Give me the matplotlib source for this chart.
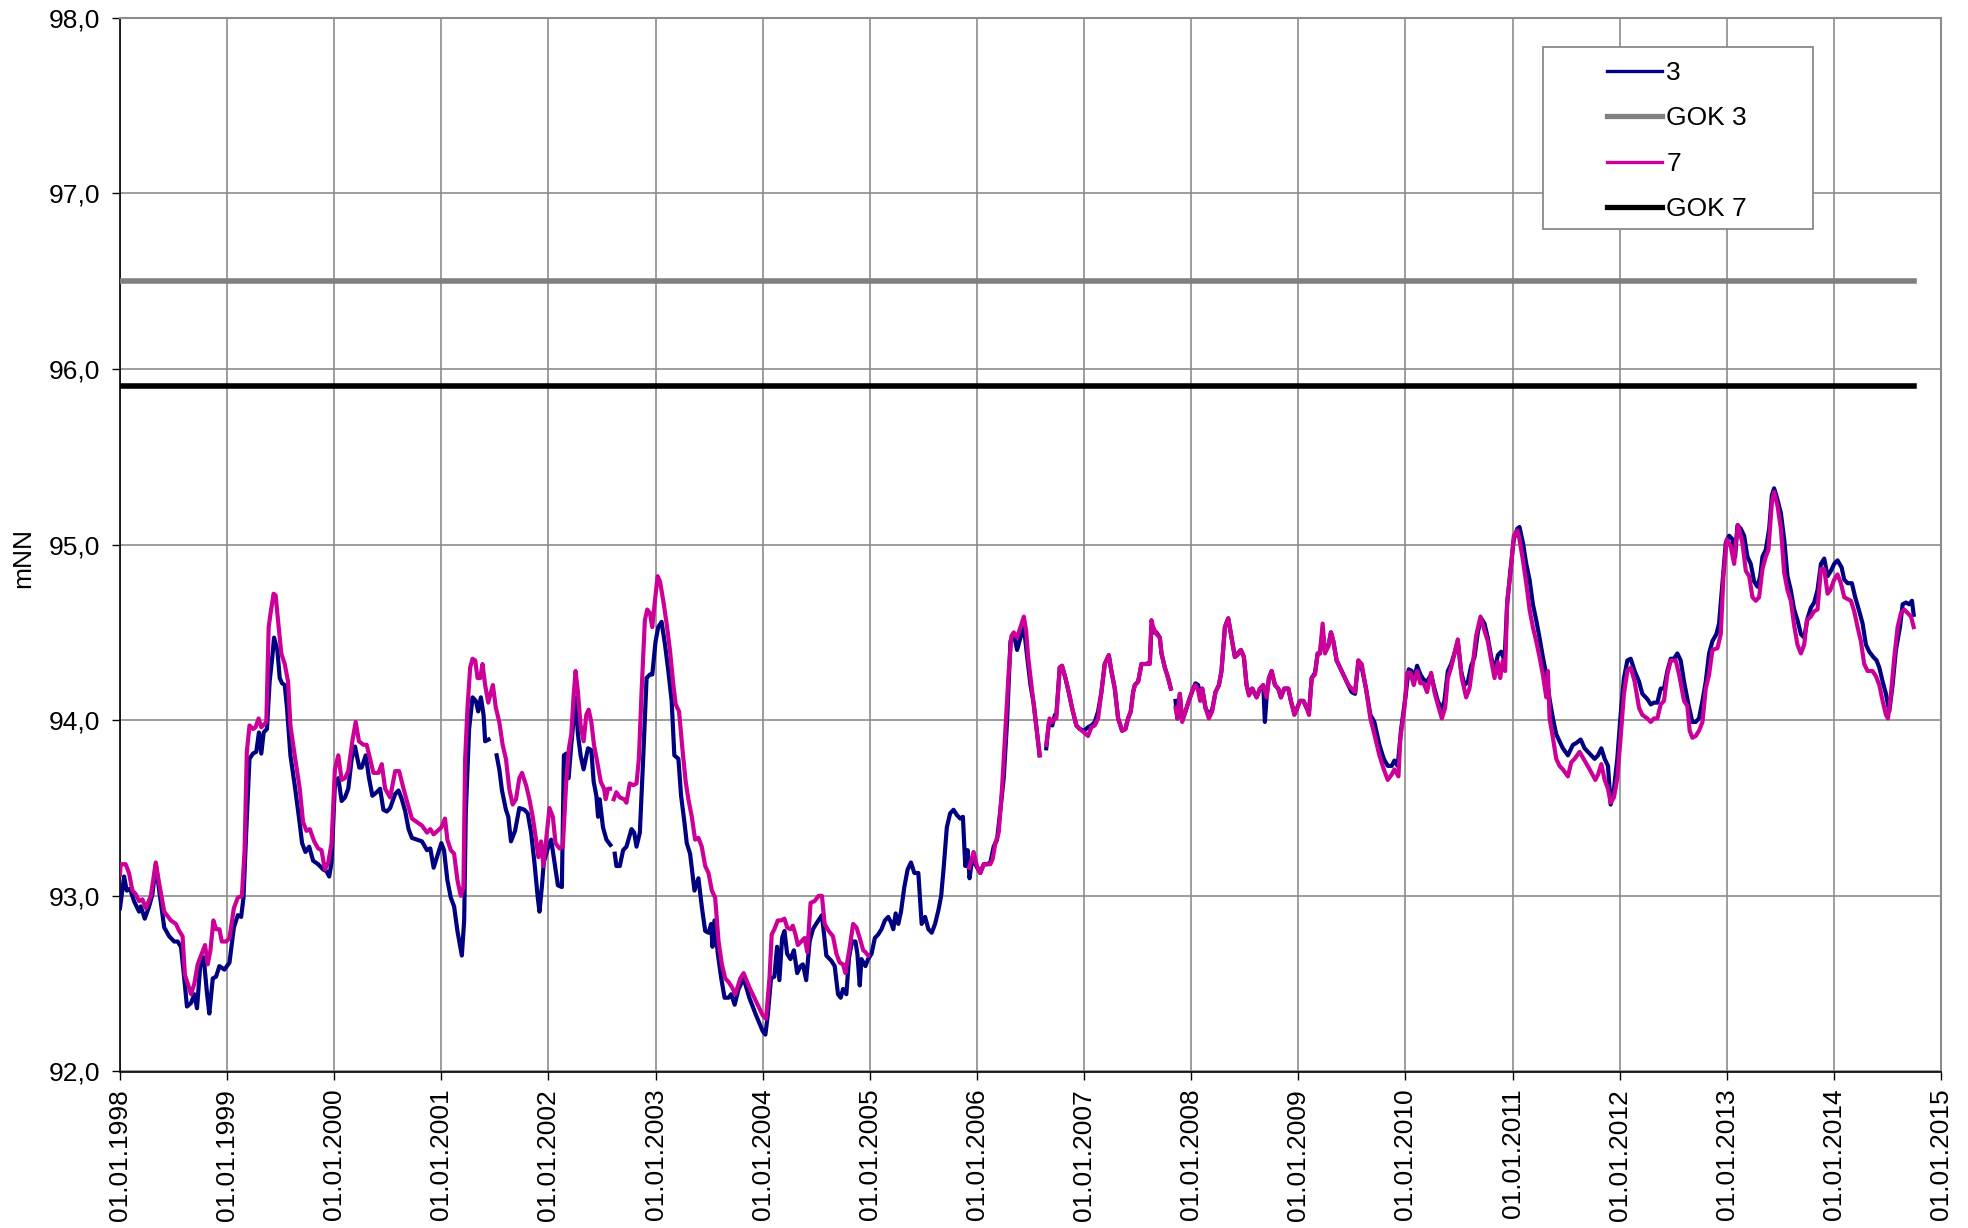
import numpy as np
import matplotlib
matplotlib.use("Agg")
import matplotlib.pyplot as plt
from matplotlib.patches import Rectangle
from matplotlib.lines import Line2D

plt.rcParams['font.family'] = ['Liberation Sans', 'DejaVu Sans']

NAN = float('nan')

# ---- data: (decimal year, level in mNN); NaN marks gaps in the record ----
series3 = [
    (1998.000, 92.93), (1998.038, 93.11), (1998.063, 93.03), (1998.094, 93.04), (1998.131, 92.97),
    (1998.178, 92.91), (1998.194, 92.94), (1998.231, 92.87), (1998.272, 92.94), (1998.303, 93.01),
    (1998.334, 93.18), (1998.366, 93.03), (1998.413, 92.82), (1998.459, 92.77), (1998.506, 92.74),
    (1998.538, 92.74), (1998.569, 92.71), (1998.600, 92.53), (1998.625, 92.37), (1998.663, 92.39),
    (1998.694, 92.44), (1998.719, 92.36), (1998.750, 92.61), (1998.781, 92.65), (1998.813, 92.44),
    (1998.834, 92.33), (1998.866, 92.53), (1998.897, 92.54), (1998.928, 92.60), (1998.975, 92.58),
    (1999.022, 92.62), (1999.063, 92.82), (1999.100, 92.89), (1999.131, 92.88), (1999.153, 92.99),
    (1999.178, 93.36), (1999.209, 93.78), (1999.241, 93.81), (1999.272, 93.82), (1999.297, 93.93),
    (1999.319, 93.81), (1999.341, 93.93), (1999.372, 93.95), (1999.397, 94.22), (1999.422, 94.36),
    (1999.438, 94.47), (1999.469, 94.40), (1999.491, 94.24), (1999.513, 94.21), (1999.538, 94.20),
    (1999.559, 94.07), (1999.591, 93.80), (1999.631, 93.63), (1999.672, 93.44), (1999.700, 93.30),
    (1999.731, 93.25), (1999.766, 93.28), (1999.803, 93.20), (1999.850, 93.18), (1999.897, 93.15),
    (1999.928, 93.14), (1999.953, 93.11), (1999.975, 93.19), (2000.006, 93.63), (2000.038, 93.67),
    (2000.069, 93.54), (2000.100, 93.56), (2000.131, 93.61), (2000.163, 93.78), (2000.194, 93.85),
    (2000.234, 93.73), (2000.256, 93.73), (2000.294, 93.80), (2000.325, 93.67), (2000.356, 93.57),
    (2000.397, 93.59), (2000.428, 93.61), (2000.459, 93.49), (2000.491, 93.48), (2000.522, 93.50),
    (2000.569, 93.58), (2000.600, 93.60), (2000.631, 93.55), (2000.663, 93.48), (2000.694, 93.38),
    (2000.725, 93.33), (2000.772, 93.32), (2000.819, 93.31), (2000.866, 93.26), (2000.897, 93.27),
    (2000.928, 93.16), (2001.000, 93.30), (2001.025, 93.26), (2001.056, 93.09), (2001.088, 92.99),
    (2001.119, 92.94), (2001.150, 92.80), (2001.191, 92.66), (2001.213, 92.86), (2001.228, 93.47),
    (2001.259, 93.95), (2001.291, 94.13), (2001.322, 94.11), (2001.344, 94.05), (2001.369, 94.13),
    (2001.394, 94.03), (2001.409, 93.88), (2001.441, 93.89), (2001.470, NAN),
    (2001.516, 93.80), (2001.541, 93.72), (2001.566, 93.60), (2001.603, 93.49), (2001.625, 93.45),
    (2001.650, 93.31), (2001.688, 93.37), (2001.728, 93.50), (2001.775, 93.49), (2001.806, 93.47),
    (2001.838, 93.36), (2001.869, 93.19), (2001.900, 92.99), (2001.916, 92.91), (2001.938, 93.05),
    (2001.956, 93.19), (2001.994, 93.27), (2002.025, 93.32), (2002.056, 93.19), (2002.088, 93.06),
    (2002.125, 93.05), (2002.144, 93.80), (2002.166, 93.81), (2002.188, 93.67), (2002.213, 93.86),
    (2002.238, 94.03), (2002.253, 94.13), (2002.275, 93.92), (2002.300, 93.80), (2002.328, 93.72),
    (2002.369, 93.84), (2002.400, 93.83), (2002.422, 93.65), (2002.447, 93.57), (2002.463, 93.45),
    (2002.478, 93.55), (2002.509, 93.39), (2002.541, 93.32), (2002.578, 93.29), (2002.598, NAN),
    (2002.619, 93.24), (2002.634, 93.17), (2002.666, 93.17), (2002.697, 93.26), (2002.728, 93.28),
    (2002.775, 93.38), (2002.800, 93.36), (2002.822, 93.28), (2002.853, 93.36), (2002.884, 93.78),
    (2002.916, 94.24), (2002.947, 94.26), (2002.969, 94.26), (2003.000, 94.45), (2003.025, 94.53),
    (2003.056, 94.56), (2003.088, 94.43), (2003.119, 94.28), (2003.150, 94.11), (2003.175, 93.80),
    (2003.213, 93.78), (2003.238, 93.57), (2003.269, 93.42), (2003.291, 93.30), (2003.322, 93.24),
    (2003.363, 93.03), (2003.400, 93.10), (2003.431, 92.94), (2003.463, 92.80), (2003.494, 92.79),
    (2003.519, 92.84), (2003.531, 92.71), (2003.550, 92.86), (2003.581, 92.67), (2003.613, 92.53),
    (2003.644, 92.42), (2003.681, 92.42), (2003.706, 92.44), (2003.738, 92.38), (2003.775, 92.47),
    (2003.822, 92.53), (2003.875, 92.42), (2003.938, 92.32), (2004.000, 92.23), (2004.025, 92.21),
    (2004.047, 92.32), (2004.078, 92.53), (2004.109, 92.54), (2004.134, 92.71), (2004.156, 92.52),
    (2004.181, 92.76), (2004.203, 92.80), (2004.228, 92.67), (2004.259, 92.64), (2004.291, 92.69),
    (2004.322, 92.56), (2004.353, 92.60), (2004.375, 92.61), (2004.406, 92.52), (2004.438, 92.74),
    (2004.469, 92.81), (2004.509, 92.85), (2004.553, 92.89), (2004.594, 92.66), (2004.641, 92.63),
    (2004.672, 92.60), (2004.703, 92.44), (2004.728, 92.42), (2004.750, 92.47), (2004.781, 92.44),
    (2004.806, 92.65), (2004.834, 92.74), (2004.866, 92.74), (2004.884, 92.67), (2004.906, 92.49),
    (2004.922, 92.64), (2004.959, 92.60), (2004.984, 92.64), (2005.016, 92.67), (2005.047, 92.76),
    (2005.078, 92.78), (2005.109, 92.81), (2005.141, 92.86), (2005.172, 92.88), (2005.197, 92.85),
    (2005.219, 92.81), (2005.241, 92.90), (2005.266, 92.84), (2005.291, 92.91), (2005.322, 93.05),
    (2005.353, 93.15), (2005.384, 93.19), (2005.416, 93.13), (2005.453, 93.13), (2005.484, 92.84),
    (2005.516, 92.88), (2005.547, 92.81), (2005.578, 92.79), (2005.609, 92.84), (2005.641, 92.92),
    (2005.666, 93.00), (2005.688, 93.15), (2005.719, 93.39), (2005.750, 93.47), (2005.781, 93.49),
    (2005.813, 93.46), (2005.844, 93.44), (2005.869, 93.45), (2005.891, 93.17), (2005.913, 93.26),
    (2005.931, 93.10), (2005.953, 93.20), (2005.984, 93.18), (2006.031, 93.13), (2006.063, 93.18),
    (2006.094, 93.18), (2006.125, 93.19), (2006.156, 93.28), (2006.188, 93.32), (2006.219, 93.49),
    (2006.250, 93.67), (2006.281, 93.99), (2006.313, 94.45), (2006.344, 94.49), (2006.375, 94.40),
    (2006.406, 94.47), (2006.438, 94.53), (2006.469, 94.36), (2006.500, 94.20), (2006.531, 94.09),
    (2006.563, 93.92), (2006.584, 93.80), (2006.615, NAN),
    (2006.647, 93.84), (2006.672, 93.99), (2006.703, 93.97), (2006.728, 94.03), (2006.741, 94.03),
    (2006.773, 94.30), (2006.794, 94.31), (2006.826, 94.24), (2006.857, 94.16), (2006.888, 94.07),
    (2006.928, 93.97), (2006.960, 93.95), (2007.000, 93.94), (2007.037, 93.96), (2007.069, 93.97),
    (2007.100, 93.99), (2007.131, 94.05), (2007.162, 94.16), (2007.193, 94.32), (2007.231, 94.37),
    (2007.255, 94.28), (2007.287, 94.18), (2007.318, 94.01), (2007.355, 93.94), (2007.386, 93.95),
    (2007.411, 94.01), (2007.436, 94.05), (2007.458, 94.16), (2007.474, 94.20), (2007.505, 94.22),
    (2007.536, 94.32), (2007.583, 94.32), (2007.614, 94.33), (2007.629, 94.53), (2007.645, 94.50),
    (2007.676, 94.50), (2007.707, 94.47), (2007.723, 94.38), (2007.754, 94.30), (2007.785, 94.24),
    (2007.810, 94.18), (2007.832, NAN),
    (2007.854, 94.11), (2007.872, 94.01), (2007.894, 94.15), (2007.916, 94.00), (2007.947, 94.05),
    (2007.978, 94.11), (2008.019, 94.18), (2008.040, 94.21), (2008.065, 94.20), (2008.084, 94.13),
    (2008.103, 94.18), (2008.134, 94.07), (2008.165, 94.03), (2008.196, 94.06), (2008.227, 94.16),
    (2008.259, 94.20), (2008.283, 94.28), (2008.315, 94.53), (2008.346, 94.58), (2008.377, 94.47),
    (2008.408, 94.36), (2008.433, 94.38), (2008.464, 94.40), (2008.492, 94.36), (2008.517, 94.20),
    (2008.539, 94.15), (2008.570, 94.18), (2008.611, 94.13), (2008.642, 94.18), (2008.673, 94.20),
    (2008.688, 93.99), (2008.704, 94.13), (2008.726, 94.24), (2008.751, 94.28), (2008.782, 94.20),
    (2008.813, 94.18), (2008.838, 94.13), (2008.869, 94.18), (2008.907, 94.18), (2008.931, 94.11),
    (2008.963, 94.04), (2008.984, 94.06), (2009.016, 94.11), (2009.047, 94.11), (2009.078, 94.07),
    (2009.100, 94.05), (2009.125, 94.24), (2009.156, 94.27), (2009.181, 94.38), (2009.202, 94.38),
    (2009.227, 94.50), (2009.249, 94.40), (2009.280, 94.42), (2009.305, 94.50), (2009.327, 94.45),
    (2009.358, 94.34), (2009.405, 94.28), (2009.436, 94.24), (2009.467, 94.20), (2009.498, 94.16),
    (2009.530, 94.15), (2009.561, 94.34), (2009.592, 94.30), (2009.632, 94.18), (2009.673, 94.03),
    (2009.710, 93.99), (2009.757, 93.86), (2009.798, 93.78), (2009.835, 93.74), (2009.872, 93.74),
    (2009.897, 93.77), (2009.928, 93.74), (2009.960, 93.95), (2010.000, 94.13), (2010.031, 94.29),
    (2010.059, 94.28), (2010.084, 94.24), (2010.109, 94.31), (2010.140, 94.26), (2010.171, 94.23),
    (2010.202, 94.22), (2010.240, 94.26), (2010.271, 94.18), (2010.302, 94.11), (2010.340, 94.06),
    (2010.364, 94.11), (2010.396, 94.28), (2010.427, 94.32), (2010.458, 94.38), (2010.489, 94.45),
    (2010.520, 94.28), (2010.551, 94.20), (2010.583, 94.22), (2010.614, 94.31), (2010.645, 94.36),
    (2010.676, 94.50), (2010.707, 94.58), (2010.738, 94.55), (2010.769, 94.47), (2010.801, 94.36),
    (2010.832, 94.28), (2010.863, 94.37), (2010.894, 94.39), (2010.925, 94.34), (2010.950, 94.66),
    (2010.978, 94.84), (2011.012, 95.03), (2011.044, 95.09), (2011.065, 95.10), (2011.097, 95.01),
    (2011.128, 94.89), (2011.159, 94.80), (2011.190, 94.66), (2011.221, 94.57), (2011.252, 94.47),
    (2011.283, 94.36), (2011.315, 94.26), (2011.346, 94.12), (2011.377, 94.01), (2011.408, 93.92),
    (2011.439, 93.88), (2011.470, 93.84), (2011.517, 93.80), (2011.564, 93.86), (2011.595, 93.87),
    (2011.636, 93.89), (2011.673, 93.84), (2011.720, 93.81), (2011.766, 93.78), (2011.798, 93.80),
    (2011.829, 93.84), (2011.860, 93.78), (2011.891, 93.74), (2011.916, 93.52), (2011.947, 93.61),
    (2011.978, 93.78), (2012.009, 94.03), (2012.040, 94.24), (2012.072, 94.34), (2012.103, 94.35),
    (2012.140, 94.28), (2012.181, 94.22), (2012.212, 94.15), (2012.259, 94.12), (2012.290, 94.09),
    (2012.321, 94.10), (2012.352, 94.10), (2012.383, 94.18), (2012.414, 94.18), (2012.445, 94.28),
    (2012.477, 94.35), (2012.508, 94.35), (2012.539, 94.38), (2012.570, 94.34), (2012.601, 94.22),
    (2012.642, 94.09), (2012.679, 93.99), (2012.710, 93.99), (2012.741, 94.01), (2012.773, 94.11),
    (2012.804, 94.22), (2012.835, 94.38), (2012.866, 94.45), (2012.903, 94.49), (2012.928, 94.55),
    (2012.960, 94.78), (2012.991, 95.01), (2013.022, 95.05), (2013.053, 95.03), (2013.078, 94.93),
    (2013.100, 95.11), (2013.131, 95.09), (2013.162, 95.05), (2013.193, 94.93), (2013.224, 94.89),
    (2013.255, 94.79), (2013.287, 94.76), (2013.312, 94.82), (2013.333, 94.93), (2013.364, 94.97),
    (2013.396, 95.09), (2013.421, 95.28), (2013.442, 95.32), (2013.467, 95.27), (2013.505, 95.18),
    (2013.536, 95.03), (2013.567, 94.82), (2013.598, 94.74), (2013.629, 94.63), (2013.660, 94.57),
    (2013.692, 94.49), (2013.723, 94.47), (2013.754, 94.58), (2013.785, 94.64), (2013.816, 94.67),
    (2013.847, 94.74), (2013.879, 94.89), (2013.910, 94.92), (2013.941, 94.82), (2013.972, 94.85),
    (2014.003, 94.89), (2014.034, 94.91), (2014.072, 94.87), (2014.097, 94.80), (2014.128, 94.78),
    (2014.168, 94.78), (2014.199, 94.70), (2014.237, 94.62), (2014.268, 94.55), (2014.299, 94.43),
    (2014.330, 94.39), (2014.368, 94.36), (2014.399, 94.34), (2014.424, 94.30), (2014.455, 94.22),
    (2014.486, 94.15), (2014.517, 94.05), (2014.548, 94.20), (2014.579, 94.40), (2014.617, 94.53),
    (2014.642, 94.66), (2014.673, 94.67), (2014.704, 94.66), (2014.729, 94.68), (2014.745, 94.60),
]

series7 = [
    (1998.000, 93.12), (1998.006, 93.18), (1998.053, 93.18), (1998.084, 93.13), (1998.116, 93.03),
    (1998.147, 93.01), (1998.178, 92.97), (1998.209, 92.98), (1998.241, 92.93), (1998.288, 93.00),
    (1998.334, 93.19), (1998.366, 93.07), (1998.413, 92.91), (1998.475, 92.86), (1998.522, 92.84),
    (1998.553, 92.80), (1998.584, 92.77), (1998.606, 92.55), (1998.638, 92.49), (1998.663, 92.44),
    (1998.694, 92.50), (1998.725, 92.61), (1998.763, 92.67), (1998.794, 92.72), (1998.819, 92.61),
    (1998.844, 92.69), (1998.872, 92.86), (1998.897, 92.81), (1998.928, 92.81), (1998.950, 92.74),
    (1998.991, 92.74), (1999.022, 92.76), (1999.063, 92.93), (1999.100, 92.99), (1999.138, 93.00),
    (1999.163, 93.26), (1999.184, 93.82), (1999.209, 93.97), (1999.241, 93.95), (1999.266, 93.96),
    (1999.294, 94.01), (1999.319, 93.96), (1999.366, 93.99), (1999.388, 94.53), (1999.406, 94.61),
    (1999.434, 94.72), (1999.453, 94.71), (1999.475, 94.57), (1999.506, 94.38), (1999.538, 94.32),
    (1999.569, 94.22), (1999.591, 93.97), (1999.631, 93.80), (1999.678, 93.61), (1999.709, 93.42),
    (1999.741, 93.37), (1999.772, 93.38), (1999.813, 93.31), (1999.850, 93.27), (1999.881, 93.26),
    (1999.913, 93.15), (1999.944, 93.19), (1999.975, 93.30), (2000.006, 93.72), (2000.038, 93.80),
    (2000.069, 93.66), (2000.100, 93.67), (2000.131, 93.71), (2000.169, 93.88), (2000.200, 93.99),
    (2000.231, 93.88), (2000.272, 93.86), (2000.303, 93.86), (2000.334, 93.78), (2000.366, 93.70),
    (2000.413, 93.70), (2000.444, 93.75), (2000.475, 93.61), (2000.522, 93.56), (2000.569, 93.71),
    (2000.606, 93.71), (2000.647, 93.61), (2000.678, 93.54), (2000.725, 93.44), (2000.772, 93.42),
    (2000.819, 93.40), (2000.866, 93.36), (2000.897, 93.38), (2000.928, 93.35), (2001.000, 93.39),
    (2001.034, 93.44), (2001.056, 93.32), (2001.088, 93.26), (2001.119, 93.24), (2001.150, 93.09),
    (2001.181, 93.00), (2001.206, 93.05), (2001.222, 93.78), (2001.244, 94.07), (2001.269, 94.30),
    (2001.291, 94.35), (2001.316, 94.34), (2001.338, 94.24), (2001.363, 94.24), (2001.384, 94.32),
    (2001.409, 94.20), (2001.438, 94.10), (2001.463, 94.16), (2001.481, 94.20), (2001.509, 94.07),
    (2001.541, 93.99), (2001.572, 93.86), (2001.603, 93.78), (2001.634, 93.61), (2001.666, 93.52),
    (2001.697, 93.55), (2001.728, 93.67), (2001.753, 93.70), (2001.791, 93.63), (2001.822, 93.55),
    (2001.853, 93.45), (2001.884, 93.32), (2001.906, 93.22), (2001.931, 93.31), (2001.953, 93.17),
    (2001.978, 93.32), (2002.009, 93.50), (2002.041, 93.45), (2002.066, 93.30), (2002.103, 93.27),
    (2002.134, 93.28), (2002.166, 93.65), (2002.191, 93.84), (2002.213, 93.92), (2002.234, 94.13),
    (2002.253, 94.28), (2002.275, 94.16), (2002.300, 93.97), (2002.328, 93.88), (2002.353, 94.03),
    (2002.375, 94.06), (2002.400, 93.99), (2002.425, 93.86), (2002.456, 93.76), (2002.488, 93.65),
    (2002.519, 93.61), (2002.534, 93.55), (2002.556, 93.61), (2002.575, 93.61), (2002.592, NAN),
    (2002.609, 93.55), (2002.634, 93.59), (2002.666, 93.56), (2002.706, 93.55), (2002.728, 93.53),
    (2002.759, 93.64), (2002.791, 93.63), (2002.822, 93.64), (2002.844, 93.78), (2002.869, 94.16),
    (2002.900, 94.57), (2002.922, 94.63), (2002.947, 94.61), (2002.969, 94.53), (2002.994, 94.68),
    (2003.019, 94.82), (2003.041, 94.79), (2003.072, 94.68), (2003.103, 94.55), (2003.134, 94.40),
    (2003.166, 94.20), (2003.188, 94.09), (2003.219, 94.05), (2003.250, 93.84), (2003.281, 93.65),
    (2003.306, 93.55), (2003.338, 93.45), (2003.369, 93.32), (2003.400, 93.33), (2003.431, 93.28),
    (2003.463, 93.17), (2003.494, 93.13), (2003.525, 93.03), (2003.556, 92.99), (2003.588, 92.74),
    (2003.619, 92.61), (2003.650, 92.53), (2003.681, 92.51), (2003.713, 92.48), (2003.744, 92.44),
    (2003.791, 92.53), (2003.822, 92.56), (2003.875, 92.48), (2003.938, 92.40), (2004.000, 92.32),
    (2004.031, 92.30), (2004.063, 92.53), (2004.084, 92.78), (2004.109, 92.81), (2004.141, 92.86),
    (2004.172, 92.86), (2004.203, 92.87), (2004.228, 92.82), (2004.259, 92.81), (2004.281, 92.83),
    (2004.306, 92.78), (2004.328, 92.72), (2004.359, 92.74), (2004.391, 92.76), (2004.416, 92.68),
    (2004.447, 92.96), (2004.484, 92.97), (2004.522, 93.00), (2004.553, 93.00), (2004.578, 92.84),
    (2004.616, 92.80), (2004.656, 92.77), (2004.688, 92.67), (2004.719, 92.62), (2004.750, 92.61),
    (2004.772, 92.56), (2004.813, 92.71), (2004.844, 92.84), (2004.875, 92.82), (2004.906, 92.76),
    (2004.938, 92.69), (2004.959, 92.68), (2004.984, 92.66), (2005.450, NAN),
    (2005.928, 93.16), (2005.947, 93.20), (2005.969, 93.25), (2006.000, 93.17), (2006.031, 93.13),
    (2006.063, 93.18), (2006.094, 93.18), (2006.125, 93.18), (2006.147, 93.21), (2006.172, 93.30),
    (2006.203, 93.36), (2006.234, 93.61), (2006.266, 93.95), (2006.297, 94.28), (2006.322, 94.48),
    (2006.344, 94.50), (2006.375, 94.47), (2006.406, 94.53), (2006.438, 94.59), (2006.459, 94.51),
    (2006.478, 94.36), (2006.509, 94.20), (2006.541, 94.03), (2006.566, 93.90), (2006.588, 93.80),
    (2006.615, NAN),
    (2006.647, 93.86), (2006.678, 94.01), (2006.703, 93.99), (2006.728, 94.01), (2006.741, 94.01),
    (2006.773, 94.30), (2006.794, 94.31), (2006.826, 94.24), (2006.857, 94.16), (2006.888, 94.07),
    (2006.928, 93.97), (2006.960, 93.95), (2007.000, 93.93), (2007.037, 93.91), (2007.069, 93.96),
    (2007.100, 93.97), (2007.131, 94.01), (2007.162, 94.16), (2007.193, 94.32), (2007.231, 94.37),
    (2007.255, 94.28), (2007.287, 94.18), (2007.318, 94.01), (2007.355, 93.94), (2007.386, 93.95),
    (2007.411, 94.01), (2007.436, 94.05), (2007.458, 94.16), (2007.474, 94.20), (2007.505, 94.22),
    (2007.536, 94.32), (2007.583, 94.32), (2007.614, 94.32), (2007.629, 94.57), (2007.645, 94.53),
    (2007.676, 94.49), (2007.707, 94.47), (2007.723, 94.38), (2007.754, 94.30), (2007.785, 94.24),
    (2007.810, 94.18), (2007.832, NAN),
    (2007.854, 94.07), (2007.872, 94.01), (2007.894, 94.15), (2007.916, 93.99), (2007.947, 94.05),
    (2007.978, 94.11), (2008.019, 94.18), (2008.040, 94.20), (2008.065, 94.17), (2008.084, 94.11),
    (2008.103, 94.18), (2008.134, 94.07), (2008.165, 94.01), (2008.196, 94.05), (2008.227, 94.16),
    (2008.259, 94.20), (2008.283, 94.28), (2008.315, 94.53), (2008.346, 94.58), (2008.377, 94.47),
    (2008.408, 94.36), (2008.433, 94.37), (2008.464, 94.40), (2008.492, 94.36), (2008.517, 94.20),
    (2008.539, 94.14), (2008.570, 94.18), (2008.611, 94.13), (2008.642, 94.18), (2008.673, 94.20),
    (2008.704, 94.13), (2008.726, 94.24), (2008.751, 94.28), (2008.782, 94.20), (2008.813, 94.18),
    (2008.838, 94.13), (2008.869, 94.18), (2008.907, 94.18), (2008.931, 94.11), (2008.963, 94.03),
    (2008.984, 94.06), (2009.016, 94.11), (2009.047, 94.11), (2009.078, 94.07), (2009.100, 94.03),
    (2009.125, 94.24), (2009.156, 94.26), (2009.181, 94.38), (2009.202, 94.38), (2009.227, 94.55),
    (2009.249, 94.38), (2009.280, 94.42), (2009.305, 94.50), (2009.327, 94.45), (2009.358, 94.34),
    (2009.405, 94.28), (2009.436, 94.24), (2009.467, 94.20), (2009.498, 94.18), (2009.530, 94.16),
    (2009.561, 94.34), (2009.592, 94.32), (2009.632, 94.18), (2009.673, 94.01), (2009.710, 93.92),
    (2009.757, 93.80), (2009.798, 93.72), (2009.835, 93.66), (2009.872, 93.69), (2009.897, 93.72),
    (2009.935, 93.68), (2009.953, 93.90), (2009.991, 94.07), (2010.016, 94.27), (2010.047, 94.27),
    (2010.078, 94.20), (2010.109, 94.28), (2010.140, 94.21), (2010.171, 94.21), (2010.202, 94.16),
    (2010.240, 94.27), (2010.271, 94.16), (2010.302, 94.09), (2010.340, 94.01), (2010.371, 94.07),
    (2010.396, 94.24), (2010.427, 94.30), (2010.458, 94.38), (2010.489, 94.46), (2010.526, 94.24),
    (2010.567, 94.13), (2010.598, 94.18), (2010.629, 94.32), (2010.660, 94.48), (2010.701, 94.59),
    (2010.738, 94.51), (2010.769, 94.45), (2010.801, 94.34), (2010.832, 94.24), (2010.863, 94.33),
    (2010.885, 94.24), (2010.910, 94.34), (2010.931, 94.28), (2010.950, 94.68), (2010.978, 94.82),
    (2011.012, 95.05), (2011.044, 95.08), (2011.065, 95.03), (2011.097, 94.91), (2011.128, 94.78),
    (2011.159, 94.63), (2011.190, 94.53), (2011.221, 94.45), (2011.252, 94.36), (2011.283, 94.26),
    (2011.315, 94.13), (2011.330, 94.28), (2011.346, 94.01), (2011.377, 93.90), (2011.408, 93.78),
    (2011.439, 93.74), (2011.470, 93.72), (2011.517, 93.68), (2011.548, 93.76), (2011.579, 93.78),
    (2011.626, 93.82), (2011.673, 93.77), (2011.720, 93.72), (2011.773, 93.66), (2011.798, 93.69),
    (2011.829, 93.75), (2011.860, 93.66), (2011.891, 93.61), (2011.916, 93.53), (2011.947, 93.56),
    (2011.978, 93.67), (2012.009, 93.90), (2012.040, 94.15), (2012.072, 94.28), (2012.103, 94.30),
    (2012.140, 94.22), (2012.181, 94.07), (2012.212, 94.03), (2012.259, 94.01), (2012.290, 93.99),
    (2012.321, 94.01), (2012.352, 94.01), (2012.383, 94.09), (2012.414, 94.11), (2012.445, 94.26),
    (2012.477, 94.34), (2012.523, 94.34), (2012.555, 94.26), (2012.601, 94.11), (2012.632, 94.08),
    (2012.654, 93.94), (2012.679, 93.90), (2012.710, 93.91), (2012.741, 93.94), (2012.773, 93.99),
    (2012.804, 94.18), (2012.835, 94.26), (2012.866, 94.40), (2012.913, 94.41), (2012.944, 94.49),
    (2012.969, 94.82), (2013.000, 95.03), (2013.037, 94.99), (2013.069, 94.89), (2013.084, 95.01),
    (2013.106, 95.11), (2013.146, 95.01), (2013.178, 94.85), (2013.209, 94.82), (2013.240, 94.70),
    (2013.271, 94.68), (2013.302, 94.70), (2013.333, 94.86), (2013.364, 94.93), (2013.389, 94.97),
    (2013.421, 95.24), (2013.442, 95.30), (2013.474, 95.22), (2013.505, 95.09), (2013.536, 94.84),
    (2013.567, 94.74), (2013.598, 94.68), (2013.629, 94.54), (2013.660, 94.43), (2013.692, 94.38),
    (2013.723, 94.43), (2013.748, 94.57), (2013.785, 94.59), (2013.816, 94.62), (2013.847, 94.63),
    (2013.879, 94.86), (2013.910, 94.86), (2013.941, 94.72), (2013.966, 94.74), (2014.003, 94.80),
    (2014.034, 94.83), (2014.065, 94.78), (2014.097, 94.70), (2014.128, 94.69), (2014.159, 94.68),
    (2014.190, 94.62), (2014.221, 94.53), (2014.252, 94.45), (2014.283, 94.32), (2014.315, 94.28),
    (2014.361, 94.28), (2014.393, 94.25), (2014.424, 94.20), (2014.455, 94.11), (2014.486, 94.03),
    (2014.505, 94.01), (2014.533, 94.15), (2014.564, 94.36), (2014.595, 94.53), (2014.626, 94.61),
    (2014.657, 94.63), (2014.688, 94.61), (2014.720, 94.59), (2014.745, 94.53),
]

gok3_level = 96.5
gok7_level = 95.9
years = list(range(1998, 2016))
y_ticks = [92, 93, 94, 95, 96, 97, 98]
labels = ["3", "GOK 3", "7", "GOK 7"]

t3 = np.array([p[0] for p in series3]); v3 = np.array([p[1] for p in series3])
t7 = np.array([p[0] for p in series7]); v7 = np.array([p[1] for p in series7])

# ---- styling ----
NAVY = "#000080"
MAGENTA = "#CC0099"
GRAY = "#808080"
GRID = "#8c8c8c"
FS = 19

W, H = 1968, 1228
fig = plt.figure(figsize=(W / 100, H / 100), dpi=100)
ax = fig.add_axes([120 / W, 1 - 1071.5 / H, (1941 - 120) / W, (1071.5 - 17.6) / H])

lw_series = 3.0
lw_gok = 4.0
gok_t = [t3[0], t3[-1]]
ax.plot(t3, v3, color=NAVY, lw=lw_series, solid_joinstyle='round', zorder=3)
ax.plot(gok_t, [gok3_level, gok3_level], color=GRAY, lw=lw_gok, zorder=3)
ax.plot(t7, v7, color=MAGENTA, lw=lw_series, solid_joinstyle='round', zorder=4)
ax.plot(gok_t, [gok7_level, gok7_level], color="black", lw=lw_gok, zorder=4)

ax.set_xlim(years[0], years[-1])
ax.set_ylim(y_ticks[0], y_ticks[-1])
ax.set_xticks(years)
ax.set_xticklabels([f"01.01.{y}" for y in years], rotation=90, fontsize=FS)
ax.set_yticks(y_ticks)
ax.set_yticklabels([f"{v:.1f}".replace('.', ',') for v in y_ticks], fontsize=FS)
ax.grid(True, color=GRID, lw=1.2, zorder=0)
ax.set_axisbelow(True)
ax.tick_params(axis='both', direction='out', length=5.5, width=1.0, color='black', pad=7)
ax.tick_params(axis='y', pad=9)
for side in ['left', 'bottom']:
    ax.spines[side].set_color('black'); ax.spines[side].set_linewidth(1.2)
for side in ['top', 'right']:
    ax.spines[side].set_color(GRID); ax.spines[side].set_linewidth(1.5)

fig.text(23 / W, 1 - 558 / H, "mNN", rotation=90, ha='center', va='center', fontsize=FS)

# legend box
fig.add_artist(Rectangle((1543 / W, 1 - 229 / H), 270 / W, 182 / H, transform=fig.transFigure,
                         facecolor='white', edgecolor=GRAY, lw=1.2, zorder=5))
handles = [Line2D([], [], color=NAVY, lw=2.4), Line2D([], [], color=GRAY, lw=3.8),
           Line2D([], [], color=MAGENTA, lw=2.4), Line2D([], [], color='black', lw=3.8)]
leg = fig.legend(handles, labels, loc='upper left', bbox_to_anchor=(1607 / W, 1 - 61 / H),
                 frameon=False, fontsize=FS, handlelength=2.1, handletextpad=0.15,
                 labelspacing=0.81, borderpad=0, borderaxespad=0)
leg.set_zorder(6)

fig.savefig("out.png", dpi=100)
